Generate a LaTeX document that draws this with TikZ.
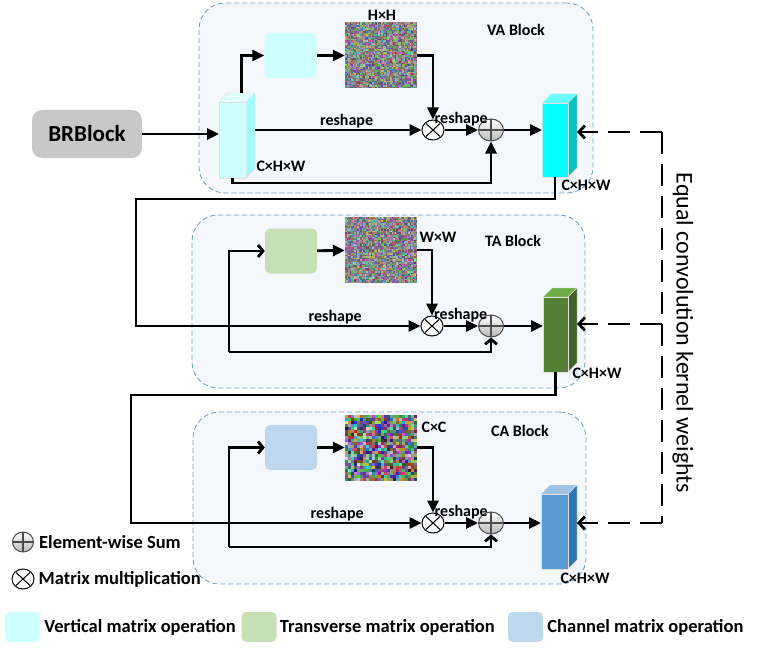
\documentclass[tikz,border=0pt]{standalone}
\usepackage{fontspec}
\setmainfont{Carlito}
\usetikzlibrary{shapes.geometric, arrows.meta, positioning, calc}

\definecolor{blkline}{HTML}{6A9BCB}
\definecolor{blkfill}{HTML}{F4F7FB}
\definecolor{brgray}{HTML}{C8C8C8}
\definecolor{vaop}{HTML}{CCFFFF}
\definecolor{taop}{HTML}{C5E0B4}
\definecolor{caop}{HTML}{BDD7EE}
\definecolor{vainS}{HTML}{99FFFF}
\definecolor{vainT}{HTML}{E2FFFF}
\definecolor{vaoutF}{HTML}{00FFFF}
\definecolor{vaoutS}{HTML}{00C4C4}
\definecolor{vaoutT}{HTML}{66FFFF}
\definecolor{taoutF}{HTML}{548235}
\definecolor{taoutS}{HTML}{3D6327}
\definecolor{taoutT}{HTML}{70AD47}
\definecolor{caoutF}{HTML}{5B9BD5}
\definecolor{caoutS}{HTML}{2E75B6}
\definecolor{caoutT}{HTML}{9DC3E6}

% cuboid: name, x, y (front top left), w, h, front, side, top
\newcommand{\cuboid}[8]{%
  \filldraw[cubeedge, fill=#8] (#2,#3) -- ++(9,-9) -- ++(#4,0) -- ++(-9,9) -- cycle;
  \filldraw[cubeedge, fill=#7] ({#2+#4},#3) -- ++(9,-9) -- ++(0,#5) -- ++(-9,9) -- cycle;
  \filldraw[cubeedge, fill=#6] (#2,#3) rectangle ++(#4,#5);
  \node[inner sep=0, outer sep=0, minimum width={(#4+9)*1pt}, minimum height={(#5+9)*1pt}, anchor=north west] (#1) at (#2,{#3-9}) {};
  \coordinate (#1-t) at ({#2+#4/2+9},{#3-9});
  \coordinate (#1-b) at ({#2+#4/2},{#3+#5});
}
% noise picture: x0, y0, cols, rows, cell, low, span
\newcommand{\noise}[7]{%
  \foreach \i in {1,...,#3}{\foreach \j in {1,...,#4}{%
    \pgfmathsetmacro\nr{#6+#7*rnd}\pgfmathsetmacro\ng{#6+#7*rnd}\pgfmathsetmacro\nb{#6+#7*rnd}%
    \definecolor{nz}{rgb}{\nr,\ng,\nb}%
    \fill[nz] ({#1+(\i-1)*#5},{#2+(\j-1)*#5}) rectangle ++(#5,#5);}}%
}

\begin{document}
\begin{tikzpicture}[x=1pt,y=-1pt,
  blk/.style={draw=blkline, dash pattern=on 5pt off 3pt, line width=0.8pt, fill=blkfill, rounded corners=26pt, inner sep=0},
  op/.style={rounded corners=5pt, inner sep=0, minimum width=52pt, minimum height=45pt},
  mat/.style={inner sep=0, minimum width=72pt, minimum height=66pt},
  cubeedge/.style={draw=white!75!gray, line width=0.4pt},
  mul/.style={ellipse, draw, line width=1pt, fill=white, minimum width=22pt, minimum height=20pt, inner sep=0,
    path picture={\draw[line width=1pt] ($(path picture bounding box.center)+(-7,-6.5)$) -- ++(14,13)
      ($(path picture bounding box.center)+(-7,6.5)$) -- ++(14,-13);}},
  sum/.style={ellipse, draw=black!70, line width=1pt, top color=white, bottom color=gray!55, minimum width=25pt, minimum height=22pt, inner sep=0,
    path picture={\draw[line width=1.2pt] (path picture bounding box.north) -- (path picture bounding box.south)
      (path picture bounding box.west) -- (path picture bounding box.east);}},
  arr/.style={-{Triangle[length=12pt,width=11pt]}, line width=2.8pt},
  oarr/.style={-{Straight Barb[length=5pt,width=12pt]}, line width=2.8pt},
  warr/.style={-{Straight Barb[length=6pt,width=13pt]}, line width=2.8pt, dash pattern=on 22pt off 10pt},
  lbl/.style={font=\bfseries\fontsize{16}{18}\selectfont, inner sep=1pt},
  leg/.style={font=\bfseries\fontsize{18.5}{21}\selectfont, inner sep=0, anchor=west}
]
  \useasboundingbox (0,0) rectangle (757,650);

  % blocks
  \node[blk, minimum width=394pt, minimum height=190pt] (va_blk) at (396,98) {};
  \node[blk, minimum width=393pt, minimum height=173pt] (ta_blk) at (388.5,301.5) {};
  \node[blk, minimum width=393pt, minimum height=172pt] (ca_blk) at (389.5,498) {};

  \node[fill=brgray, rounded corners=10pt, minimum width=110pt, minimum height=48pt, font=\bfseries\fontsize{23}{26}\selectfont] (brblock) at (87,134) {BRBlock};

  % VA block
  \cuboid{vain}{219}{102}{27}{76}{vaop}{vainS}{vainT}
  \node[op, fill=vaop] (va_op) at (290.5,55.5) {};
  \pgfmathsetseed{7}
  \noise{345}{22.5}{48}{44}{1.5}{0.25}{0.55}
  \node[mat] (va_mat) at (381,55.5) {};
  \node[mul] (va_mul) at (433,130) {};
  \node[sum] (va_add) at (491,130) {};
  \cuboid{vaout}{542}{103}{26}{74}{vaoutF}{vaoutS}{vaoutT}
  \node[lbl] (va_hh) at (382,15) {H×H};
  \node[lbl] (va_name) at (516,30) {VA Block};
  \node[lbl] (va_in_sz) at (281,166) {C×H×W};
  \node[lbl] (va_out_sz) at (586,185) {C×H×W};

  % TA block
  \node[op, fill=taop] (ta_op) at (291,251) {};
  \noise{345}{217}{48}{44}{1.5}{0.25}{0.55}
  \node[mat] (ta_mat) at (381,250) {};
  \node[mul] (ta_mul) at (432,326) {};
  \node[sum] (ta_add) at (491,326) {};
  \cuboid{taout}{543}{297}{25}{75}{taoutF}{taoutS}{taoutT}
  \node[lbl] (ta_ww) at (438,237) {W×W};
  \node[lbl] (ta_name) at (513,241) {TA Block};
  \node[lbl] (ta_out_sz) at (597,373) {C×H×W};

  % CA block
  \node[op, fill=caop] (ca_op) at (291,447.5) {};
  \noise{345}{414.5}{24}{22}{3}{0.08}{0.8}
  \node[mat] (ca_mat) at (381,447.5) {};
  \node[mul] (ca_mul) at (433,523) {};
  \node[sum] (ca_add) at (491,523) {};
  \cuboid{caout}{541}{494}{27}{75}{caoutF}{caoutS}{caoutT}
  \node[lbl] (ca_cc) at (434,427) {C×C};
  \node[lbl] (ca_name) at (520,431) {CA Block};
  \node[lbl] (ca_out_sz) at (585,578) {C×H×W};

  \coordinate (lk1) at (136,199);
  \coordinate (lk2) at (131,395);
  \coordinate (ta_br) at (229,352);
  \coordinate (ca_br) at (229,547);
  \coordinate (wt1) at (662,132);
  \coordinate (wt2) at (662,324);
  \coordinate (wt3) at (662,523);

  % VA connectors
  \draw[arr] (brblock) -- (brblock -| vain.west);
  \draw[arr] (vain-t) |- (va_op);
  \draw[arr] (va_op) -- (va_mat);
  \draw[arr] (va_mat) -| (va_mul);
  \draw[arr] (vain.east |- va_mul) -- node[lbl, above, pos=0.55]{reshape} (va_mul);
  \draw[arr] (va_mul) -- node[lbl, above=2pt]{reshape} (va_add);
  \draw[arr] (va_add) -- (vaout.west |- va_add);
  \draw[arr] (vain-b) -- ++(0,5) -| (va_add);

  % TA connectors
  \draw[arr] (vaout-b) |- (lk1) |- node[lbl, above, pos=0.85]{reshape} (ta_mul);
  \draw[oarr] (ta_br) |- (ta_op);
  \draw[oarr] (ta_br) -| (ta_add);
  \draw[arr] (ta_op) -- (ta_mat);
  \draw[arr] (ta_mat) -| (ta_mul);
  \draw[arr] (ta_mul) -- node[lbl, above=2pt]{reshape} (ta_add);
  \draw[arr] (ta_add) -- (taout.west |- ta_add);

  % CA connectors
  \draw[arr] (taout-b) |- (lk2) |- node[lbl, above, pos=0.855]{reshape} (ca_mul);
  \draw[oarr] (ca_br) |- (ca_op);
  \draw[oarr] (ca_br) -| (ca_add);
  \draw[arr] (ca_op) -- (ca_mat);
  \draw[arr] (ca_mat) -| (ca_mul);
  \draw[arr] (ca_mul) -- node[lbl, above=2pt]{reshape} (ca_add);
  \draw[arr] (ca_add) -- (caout.west |- ca_add);

  % shared weights
  \draw[line width=2.8pt, dash pattern=on 22pt off 10pt] (wt1) -- (wt3);
  \foreach \w/\c in {wt1/vaout, wt2/taout, wt3/caout}{\draw[warr] (\w) -- (\w -| \c.east);}
  \node[font=\fontsize{24}{28}\selectfont, rotate=-90] (eq_txt) at (683,333) {Equal convolution kernel weights};

  % legend
  \node[sum, minimum width=21pt, minimum height=20pt] (lg_sum) at (23,542) {};
  \node[leg, right=5pt of lg_sum] (lg_sum_txt) {Element-wise Sum};
  \node[mul] (lg_mul) at (23,579) {};
  \node[leg, right=4pt of lg_mul] (lg_mul_txt) {Matrix multiplication};
  \node[op, fill=vaop, minimum width=35pt, minimum height=30pt] (sw1) at (22.5,627) {};
  \node[leg, right=4pt of sw1] (sw1_txt) {Vertical matrix operation};
  \node[op, fill=taop, minimum width=35pt, minimum height=30pt] (sw2) at (259,627) {};
  \node[leg, right=3pt of sw2] (sw2_txt) {Transverse matrix operation};
  \node[op, fill=caop, minimum width=35pt, minimum height=30pt] (sw3) at (525.5,627) {};
  \node[leg, right=4pt of sw3] (sw3_txt) {Channel matrix operation};
\end{tikzpicture}
\end{document}
